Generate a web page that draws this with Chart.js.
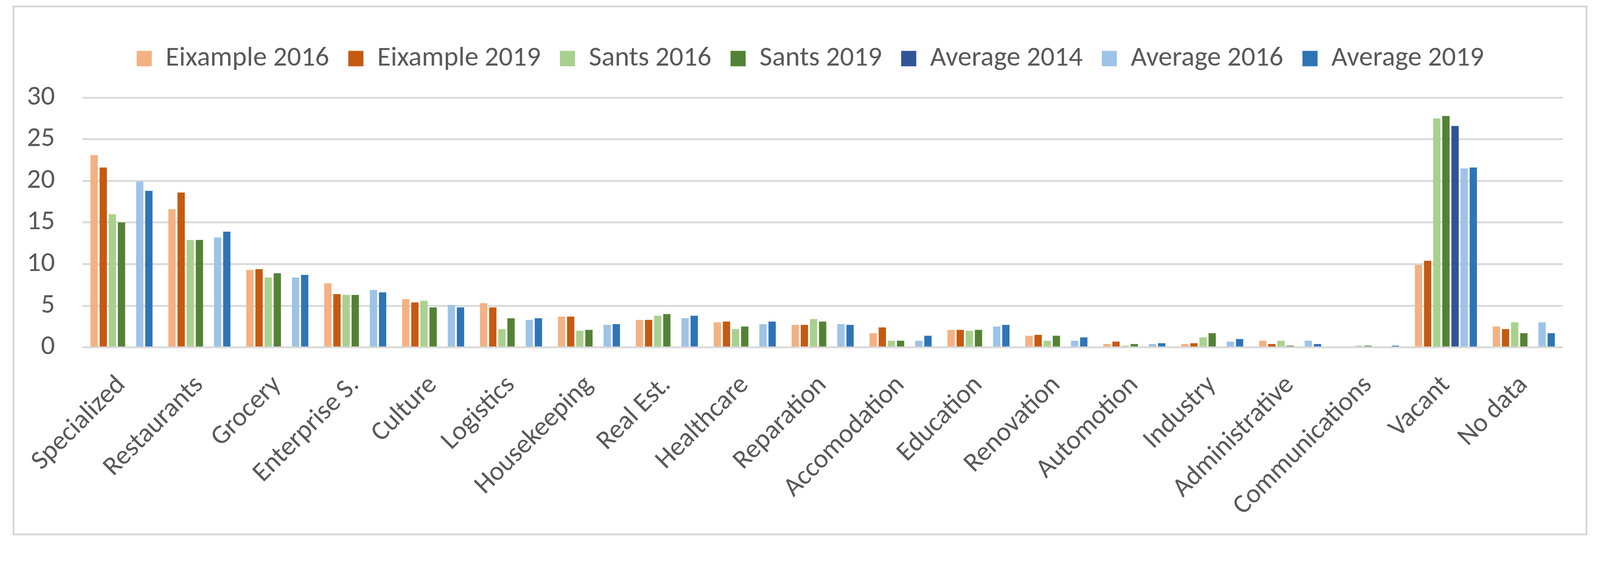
<!DOCTYPE html>
<html>
<head>
<meta charset="utf-8">
<script src="https://cdn.jsdelivr.net/npm/chart.js@4/dist/chart.umd.min.js"></script>
<style>
  html, body { margin: 0; padding: 0; background: #ffffff; overflow: hidden; }
  #frame { position: absolute; border-style: solid; border-color: #d9d9d9; box-sizing: border-box; }
  #c { position: absolute; left: 0; top: 0; }
</style>
</head>
<body>
<div id="frame"></div>
<canvas id="c"></canvas>
<script>
const categories = ["Specialized", "Restaurants", "Grocery", "Enterprise S.", "Culture", "Logistics",
  "Housekeeping", "Real Est.", "Healthcare", "Reparation", "Accomodation", "Education", "Renovation",
  "Automotion", "Industry", "Administrative", "Communications", "Vacant", "No data"];

const eixample2016 = [23.1, 16.6, 9.3, 7.7, 5.8, 5.3, 3.7, 3.3, 3.0, 2.7, 1.7, 2.1, 1.4, 0.4, 0.4, 0.8, 0, 9.9, 2.5];
const eixample2019 = [21.6, 18.6, 9.4, 6.4, 5.4, 4.8, 3.7, 3.3, 3.1, 2.7, 2.4, 2.1, 1.5, 0.7, 0.5, 0.4, 0, 10.4, 2.2];
const sants2016    = [16.0, 12.9, 8.4, 6.3, 5.6, 2.2, 2.0, 3.8, 2.2, 3.4, 0.8, 2.0, 0.8, 0.2, 1.2, 0.8, 0.2, 27.5, 3.0];
const sants2019    = [15.0, 12.9, 8.9, 6.3, 4.8, 3.5, 2.1, 4.0, 2.5, 3.1, 0.8, 2.1, 1.4, 0.4, 1.7, 0.2, 0.2, 27.8, 1.7];
const average2014  = [null, null, null, null, null, null, null, null, null, null, null, null, null, null, null, null, null, 26.6, null];
const average2016  = [19.9, 13.2, 8.4, 6.9, 5.1, 3.3, 2.7, 3.5, 2.8, 2.8, 0.8, 2.5, 0.8, 0.4, 0.7, 0.8, 0, 21.5, 3.0];
const average2019  = [18.8, 13.9, 8.7, 6.6, 4.8, 3.5, 2.8, 3.8, 3.1, 2.7, 1.4, 2.7, 1.2, 0.5, 1.0, 0.4, 0.2, 21.6, 1.7];

const seriesNames = ["Eixample 2016", "Eixample 2019", "Sants 2016", "Sants 2019", "Average 2014", "Average 2016", "Average 2019"];
const seriesValues = [eixample2016, eixample2019, sants2016, sants2019, average2014, average2016, average2019];
const seriesColors = ["#F4B183", "#C55A11", "#A9D18E", "#548235", "#2F5597", "#9DC3E6", "#2E75B6"];

const yTicks = { min: 0, max: 30, step: 5 };

// Layout is expressed in reference pixels (4342 x 1493) and scaled to the viewport.
const W = window.innerWidth, H = window.innerHeight;
const S = W / 4342;
const px = v => v * S;

const FONT = "Carlito, Calibri, 'Liberation Sans', Arial, sans-serif";
const TEXT = "#595959";
const FS = 75;
const FS_X = 73;
const LEG_PAD = 52;
const PAD_TOP = 69.5;
const PLOT_TOP = 265, PLOT_BOTTOM = 943, PLOT_LEFT = 224, PLOT_RIGHT = 4241;
const PAD_LEFT = 40;

const frame = document.getElementById('frame');
frame.style.left = px(34) + 'px';
frame.style.top = px(15) + 'px';
frame.style.width = px(4308 - 34) + 'px';
frame.style.height = px(1453 - 15) + 'px';
frame.style.borderWidth = px(6) + 'px';

const canvas = document.getElementById('c');
canvas.style.width = W + 'px';
canvas.style.height = H + 'px';
canvas.width = W; canvas.height = H;

const legendTweak = {
  id: 'legendTweak',
  afterInit(chart) {
    const lg = chart.legend;
    if (!lg) return;
    const f = lg.fit;
    lg.fit = function () {
      f.call(this);
      this.height = px(PLOT_TOP - PAD_TOP);
    };
    const d = lg.draw;
    const shift = 2199 - (PAD_LEFT + PLOT_RIGHT) / 2;
    lg.draw = function () {
      const ctx = this.ctx; ctx.save(); ctx.translate(px(shift), 0); d.call(this); ctx.restore();
    };
  }
};

new Chart(canvas, {
  type: 'bar',
  data: {
    labels: categories,
    datasets: seriesNames.map((n, i) => ({
      label: n,
      data: seriesValues[i],
      backgroundColor: seriesColors[i],
      borderWidth: 0,
      categoryPercentage: 0.82,
      barPercentage: 0.8
    }))
  },
  plugins: [legendTweak],
  options: {
    responsive: false,
    animation: false,
    layout: { padding: { left: px(PAD_LEFT), right: px(4342 - PLOT_RIGHT), top: px(PAD_TOP), bottom: 0 } },
    plugins: {
      tooltip: { enabled: false },
      legend: {
        position: 'top',
        labels: {
          font: { family: FONT, size: px(FS) },
          color: TEXT,
          boxWidth: px(41),
          boxHeight: px(42),
          padding: px(LEG_PAD)
        }
      }
    },
    scales: {
      x: {
        grid: { display: false },
        border: { display: false },
        ticks: {
          autoSkip: false,
          minRotation: 45,
          maxRotation: 45,
          padding: px(52),
          color: TEXT,
          font: { family: FONT, size: px(FS_X) }
        },
        afterFit(scale) { scale.height = H - px(PLOT_BOTTOM); }
      },
      y: {
        min: yTicks.min,
        max: yTicks.max,
        ticks: {
          stepSize: yTicks.step,
          padding: px(75),
          color: TEXT,
          font: { family: FONT, size: px(FS) }
        },
        grid: { color: '#d9d9d9', lineWidth: px(5), drawTicks: false },
        border: { display: false },
        afterFit(scale) { scale.width = px(PLOT_LEFT - PAD_LEFT); }
      }
    }
  }
});
</script>
</body>
</html>
